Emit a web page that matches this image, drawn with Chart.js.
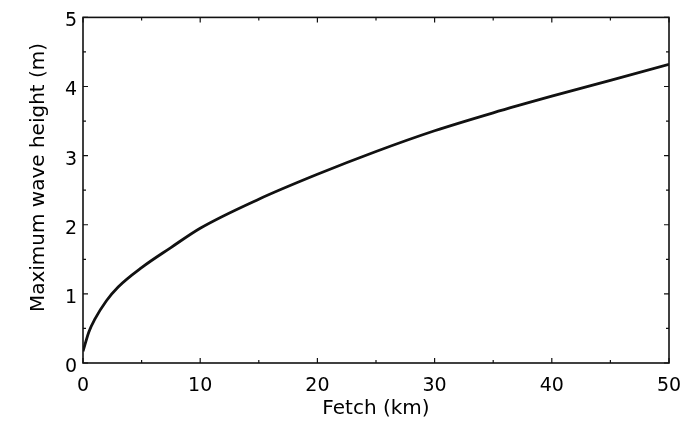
<!DOCTYPE html>
<html>
<head>
<meta charset="utf-8">
<script src="https://cdn.jsdelivr.net/npm/chart.js@4.4.1/dist/chart.umd.min.js"></script>
<style>
  html, body { margin:0; padding:0; background:#fff; }
</style>
</head>
<body>
<canvas id="myChart" width="689" height="423"></canvas>
<script>
// values
var fetchKm    = [0, 0.5, 1, 2, 3, 5, 7.5, 10, 15, 20, 25, 30, 35, 40, 45, 50];
var waveHeight = [0.17, 0.45, 0.63, 0.9, 1.1, 1.38, 1.67, 1.95, 2.37, 2.73, 3.06, 3.36, 3.62, 3.86, 4.09, 4.32];
var xTicks = [0, 10, 20, 30, 40, 50];
var yTicks = [0, 1, 2, 3, 4, 5];
var xMinor = [5, 15, 25, 35, 45];
var yMinor = [0.5, 1.5, 2.5, 3.5, 4.5];

var points = [];
for (let i = 0; i < fetchKm.length; i++) {
    points.push({x: fetchKm[i], y: waveHeight[i]});
}

// box round the plot with inward ticks on all four sides
var boxTicks = {
    id: 'boxTicks',
    afterDatasetsDraw(chart) {
        const ctx = chart.ctx;
        const a = chart.chartArea;
        const xs = chart.scales.x, ys = chart.scales.y;
        ctx.save();
        ctx.strokeStyle = '#111';
        ctx.lineWidth = 1.6;
        ctx.strokeRect(a.left, a.top, a.right - a.left, a.bottom - a.top);
        ctx.lineWidth = 1.2;
        ctx.beginPath();
        function xt(v, len) {
            let p = xs.getPixelForValue(v);
            ctx.moveTo(p, a.bottom); ctx.lineTo(p, a.bottom - len);
            ctx.moveTo(p, a.top); ctx.lineTo(p, a.top + len);
        }
        function yt(v, len) {
            let p = ys.getPixelForValue(v);
            ctx.moveTo(a.left, p); ctx.lineTo(a.left + len, p);
            ctx.moveTo(a.right, p); ctx.lineTo(a.right - len, p);
        }
        xTicks.forEach(v => xt(v, 5));
        xMinor.forEach(v => xt(v, 3));
        yTicks.forEach(v => yt(v, 5));
        yMinor.forEach(v => yt(v, 3));
        ctx.stroke();
        ctx.restore();
    }
};

var ctx = document.getElementById('myChart').getContext('2d');
var myChart = new Chart(ctx, {
    type: 'line',
    data: {
        datasets: [{
            data: points,
            borderColor: '#111',
            borderWidth: 2.8,
            pointRadius: 0,
            fill: false,
            cubicInterpolationMode: 'monotone'
        }]
    },
    options: {
        responsive: false,
        animation: false,
        devicePixelRatio: 1,
        layout: { padding: { top: 13, right: 20, bottom: 0, left: 0 } },
        plugins: { legend: { display: false }, tooltip: { enabled: false } },
        scales: {
            x: {
                type: 'linear',
                min: 0, max: 50,
                afterBuildTicks: s => { s.ticks = xTicks.map(v => ({value: v})); },
                afterFit: s => { s.height = 60; s.paddingRight = 0; s.paddingLeft = 0; },
                grid: { display: false, drawTicks: false },
                border: { display: false },
                ticks: { color: '#000', padding: 12, font: { family: 'DejaVu Sans', size: 19 } },
                title: {
                    display: true, text: 'Fetch (km)', color: '#000',
                    padding: { top: 0, bottom: 2 },
                    font: { family: 'DejaVu Sans', size: 20 }
                }
            },
            y: {
                min: 0, max: 5,
                afterBuildTicks: s => { s.ticks = yTicks.map(v => ({value: v})); },
                afterFit: s => { s.width = 83; },
                grid: { display: false, drawTicks: false },
                border: { display: false },
                ticks: { color: '#000', padding: 6, labelOffset: 4, font: { family: 'DejaVu Sans', size: 19 } },
                title: {
                    display: true, text: '    Maximum wave height (m)', color: '#000',
                    padding: { top: 27, bottom: 0 },
                    font: { family: 'DejaVu Sans', size: 20 }
                }
            }
        }
    },
    plugins: [boxTicks]
});
</script>
</body>
</html>
